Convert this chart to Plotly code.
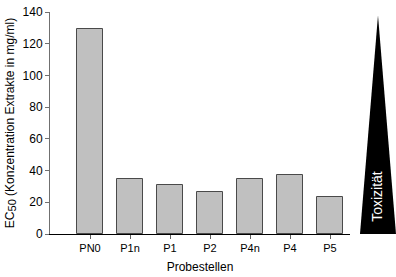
import plotly.graph_objects as go

categories = ["PN0", "P1n", "P1", "P2", "P4n", "P4", "P5"]
values = [129, 34.5, 31, 26.5, 34.5, 37, 23.5]
y_ticks = [0, 20, 40, 60, 80, 100, 120, 140]

font = "Liberation Sans, Arial, sans-serif"

fig = go.Figure()
fig.add_trace(go.Bar(
    x=list(range(len(categories))), y=values, width=0.63,
    marker=dict(color="#c0c0c0", line=dict(color="#4a4a4a", width=1)),
))

# Toxicity triangle (decoration outside plot area)
fig.add_shape(type="path", xref="paper", yref="paper",
              path="M 1.0333 0 L 1.0933 0.985 L 1.1533 0 Z",
              fillcolor="black", line=dict(width=0))
fig.add_annotation(xref="paper", yref="paper", x=1.092, y=0.17,
                   xanchor="center", yanchor="middle",
                   text="Toxizität", textangle=-90, showarrow=False,
                   font=dict(color="white", size=14, family=font))

fig.update_layout(
    width=396, height=277,
    margin=dict(l=50, r=46, t=5, b=42),
    plot_bgcolor="white", paper_bgcolor="white",
    showlegend=False,
    font=dict(family=font, size=11, color="black"),
    bargap=0,
)
fig.update_xaxes(
    range=[-1, 6.5], tickvals=list(range(len(categories))), ticktext=categories,
    showline=True, linecolor="black", linewidth=1, ticks="outside", ticklen=4,
    tickcolor="#606060", showgrid=False, zeroline=False,
    title=dict(text="Probestellen", font=dict(size=12), standoff=9),
)
fig.update_yaxes(
    range=[0, 140], tickvals=y_ticks, showline=True, linecolor="#707070",
    linewidth=1, ticks="outside", ticklen=4, tickcolor="#707070",
    showgrid=False, zeroline=False, tickfont=dict(size=12),
    ticklabeloverflow="allow",
    title=dict(text="EC<sub><span style='font-size:11px'>50</span></sub> "
                    "(Konzentration Extrakte in mg/ml)",
               font=dict(size=12), standoff=5),
)

fig.write_html("out.html", config={"displayModeBar": False},
               post_script="document.body.style.margin='0';")
